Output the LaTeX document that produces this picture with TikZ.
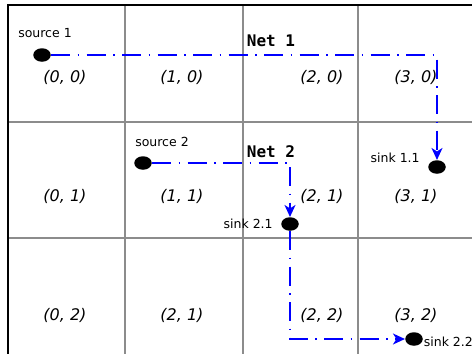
\documentclass[tikz,border=0pt]{standalone}
\usepackage{fontspec}
\setmainfont{DejaVu Sans}
\setmonofont{DejaVu Sans Mono}
\usetikzlibrary{arrows.meta,positioning,shapes.geometric}

\begin{document}
\begin{tikzpicture}[x=1pt,y=-1pt,>={Stealth[length=12pt,width=11pt,inset=3.5pt]},semithick]
  \tikzstyle{pin}=[ellipse,fill=black,inner sep=0pt,minimum width=17.5pt,minimum height=13.5pt]
  \tikzstyle{pinlabel}=[inner sep=0pt,font=\fontsize{12.5}{14}\selectfont]
  \tikzstyle{cell}=[inner sep=0pt,font=\fontsize{16}{18}\selectfont\itshape]
  \tikzstyle{netname}=[inner sep=0pt,font=\fontsize{16}{18}\selectfont\ttfamily\bfseries]
  \tikzstyle{wire}=[->,draw=blue,line width=1.6pt,dash pattern=on 19pt off 7.5pt on 1.5pt off 7.5pt]
  \tikzstyle{gridline}=[draw=black!45,line width=2pt]

  \useasboundingbox (0,0) rectangle (472,354);

  \draw[gridline] (125,5) -- (125,354)
                  (243,5) -- (243,354)
                  (358,5) -- (358,354)
                  (8,122) -- (472,122)
                  (8,238) -- (472,238);
  \draw[line width=2.5pt] (8,354) -- (8,5) -- (472,5);

  \node[cell] (c00) at (65,77)  {(0, 0)};
  \node[cell] (c10) at (182,77) {(1, 0)};
  \node[cell] (c20) at (322,77) {(2, 0)};
  \node[cell] (c30) at (416,77) {(3, 0)};
  \node[cell] (c01) at (65,196)  {(0, 1)};
  \node[cell] (c11) at (182,196) {(1, 1)};
  \node[cell] (c21) at (322,196) {(2, 1)};
  \node[cell] (c31) at (416,196) {(3, 1)};
  \node[cell] (c02) at (65,315)  {(0, 2)};
  \node[cell] (c12) at (182,315) {(2, 1)};
  \node[cell] (c22) at (322,315) {(2, 2)};
  \node[cell] (c32) at (416,315) {(3, 2)};

  \node[pin] (src1)  at (42,55)   {};
  \node[pin] (snk11) at (437,167) {};
  \node[pin] (src2)  at (143,163) {};
  \node[pin] (snk21) at (290,224) {};
  \node[pin] (snk22) at (414,339) {};

  \node[pinlabel,above=10pt of src1,xshift=3pt]  (src1l)  {source 1};
  \node[pinlabel,above=9pt of src2,xshift=19pt]  (src2l)  {source 2};
  \node[pinlabel,left=8pt of snk11,yshift=9pt]   (snk11l) {sink 1.1};
  \node[pinlabel,left=8pt of snk21]              (snk21l) {sink 2.1};
  \node[pinlabel,right=0.5pt of snk22,yshift=-3pt] (snk22l) {sink 2.2};

  \node[netname] (net1) at (271,41)  {Net 1};
  \node[netname] (net2) at (271,152) {Net 2};

  \draw[wire] (src1) -| (snk11);
  \draw[wire] (src2) -| (snk21);
  \draw[wire] (snk21) |- (snk22);
\end{tikzpicture}
\end{document}
